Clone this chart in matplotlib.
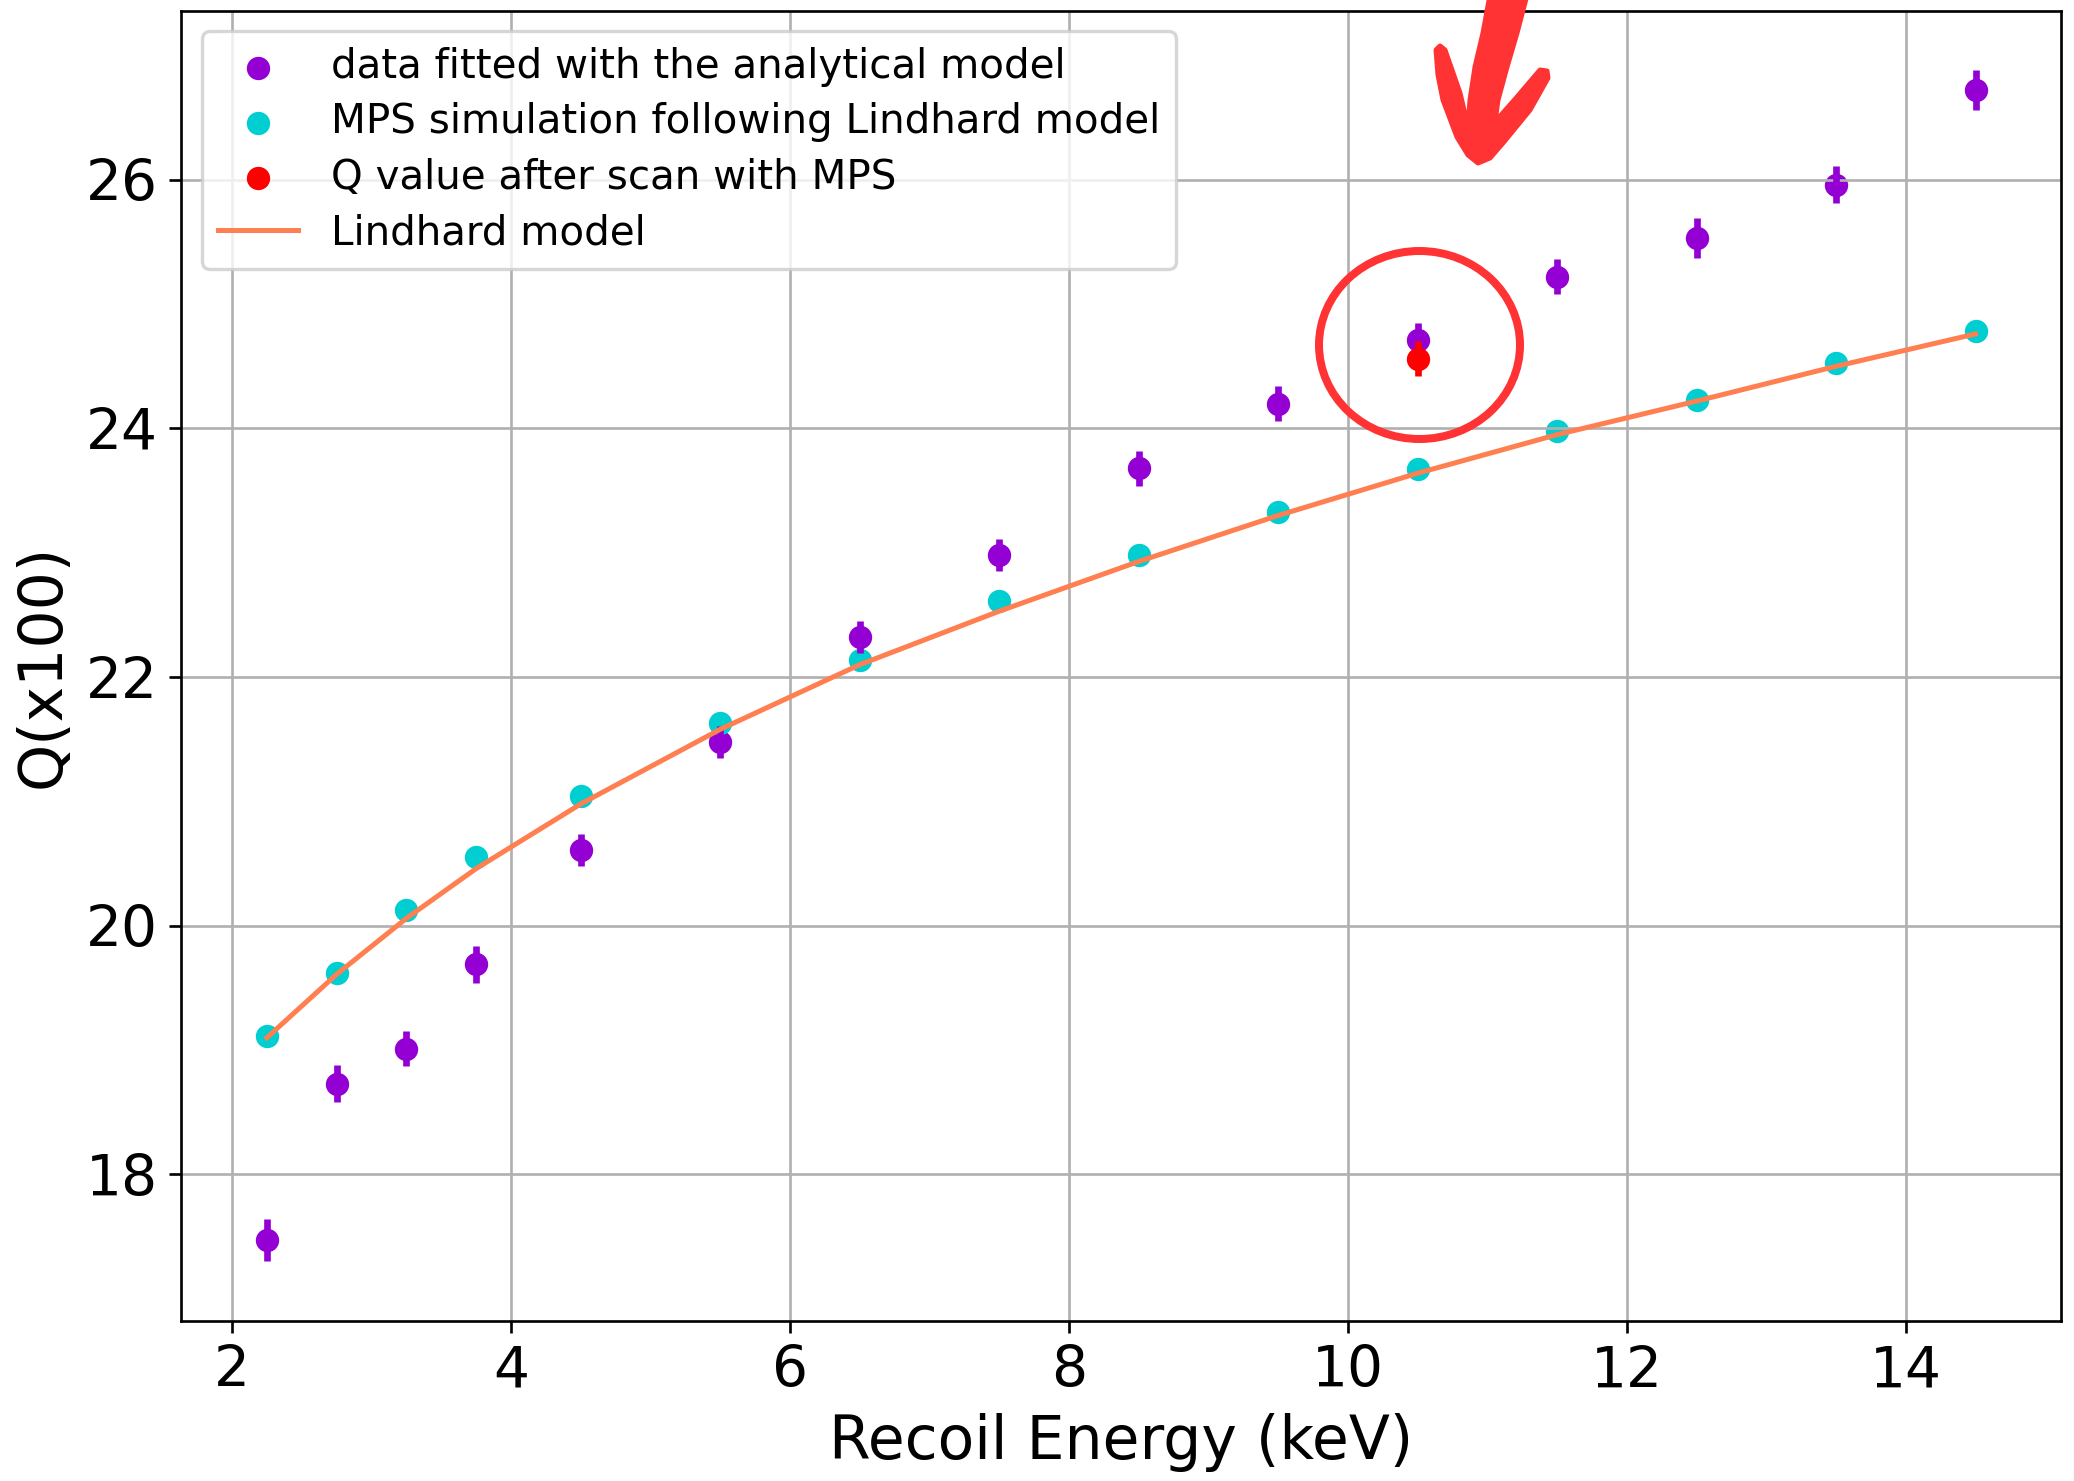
import matplotlib
matplotlib.use("Agg")
import matplotlib.pyplot as plt
from matplotlib.patches import Ellipse, Polygon
from matplotlib.transforms import Affine2D

# recoil energies (keV)
energy = [2.25, 2.75, 3.25, 3.75, 4.5, 5.5, 6.5, 7.5, 8.5, 9.5, 10.5, 11.5, 12.5, 13.5, 14.5]

# data fitted with the analytical model, Q x100, with errors
q_fit = [17.47, 18.73, 19.01, 19.69, 20.61, 21.48, 22.32, 22.98, 23.68, 24.20, 24.71, 25.22, 25.53, 25.96, 26.72]
q_fit_err = [0.17, 0.15, 0.14, 0.15, 0.13, 0.13, 0.13, 0.13, 0.14, 0.14, 0.14, 0.14, 0.16, 0.15, 0.16]

# MPS simulation following Lindhard model
q_mps = [19.11, 19.62, 20.13, 20.55, 21.04, 21.63, 22.14, 22.61, 22.98, 23.33, 23.67, 23.98, 24.23, 24.53, 24.78]

# Q value after scan with MPS
scan_energy = [10.5]
q_scan = [24.56]
q_scan_err = [0.14]

# Lindhard model curve, read at the same energies
lindhard_q = [19.10, 19.61, 20.06, 20.46, 20.98, 21.58, 22.10, 22.53, 22.93, 23.30, 23.64, 23.95, 24.22, 24.50, 24.76]

W, H, DPI = 2074, 1481, 240
fig = plt.figure(figsize=(W / DPI, H / DPI), dpi=DPI)
ax = fig.add_axes([0.0875, 0.108, 0.9062, 0.8847])

ax.errorbar(energy, q_fit, yerr=q_fit_err, fmt='none', ecolor='darkviolet', elinewidth=2)
s1 = ax.scatter(energy, q_fit, color='darkviolet', label='data fitted with the analytical model')
s2 = ax.scatter(energy, q_mps, color='darkturquoise', label='MPS simulation following Lindhard model')
ax.errorbar(scan_energy, q_scan, yerr=q_scan_err, fmt='none', ecolor='red', elinewidth=2)
s3 = ax.scatter(scan_energy, q_scan, color='red', label='Q value after scan with MPS')
l1, = ax.plot(energy, lindhard_q, color='coral', label='Lindhard model')

ax.set_xlabel('Recoil Energy (keV)', fontsize=18)
ax.set_ylabel('Q(x100)', fontsize=18)
ax.tick_params(labelsize=17)
ax.grid(True)
ax.legend(handles=[s1, s2, s3, l1], loc='upper left', fontsize=12.1, labelspacing=0.38)

# hand-drawn markup on top of the plot (image pixel coordinates, y down)
pix = Affine2D().scale(1, -1).translate(0, H)
ring = Ellipse((1419.5, 345), 201, 188, fill=False, edgecolor='#ff3333', linewidth=2.4,
               transform=pix, clip_on=False)
fig.add_artist(ring)

arrow_outline = [
    (1490, -5), (1483, 33), (1475, 67), (1470, 100), (1468, 127),
    (1460, 93), (1445, 50), (1440, 46), (1436, 50), (1438, 75),
    (1443, 100), (1457, 137), (1468, 155), (1478, 163), (1490, 158),
    (1503, 143), (1530, 110), (1548, 78), (1547, 71), (1540, 70),
    (1517, 97), (1495, 122), (1498, 100), (1507, 67), (1517, 33), (1527, -5),
]
arrow = Polygon(arrow_outline, closed=True, facecolor='#ff3333', edgecolor='#ff3333',
                linewidth=1.5, joinstyle='round', transform=pix, clip_on=False)
fig.add_artist(arrow)

fig.savefig('out.png', dpi=DPI)
